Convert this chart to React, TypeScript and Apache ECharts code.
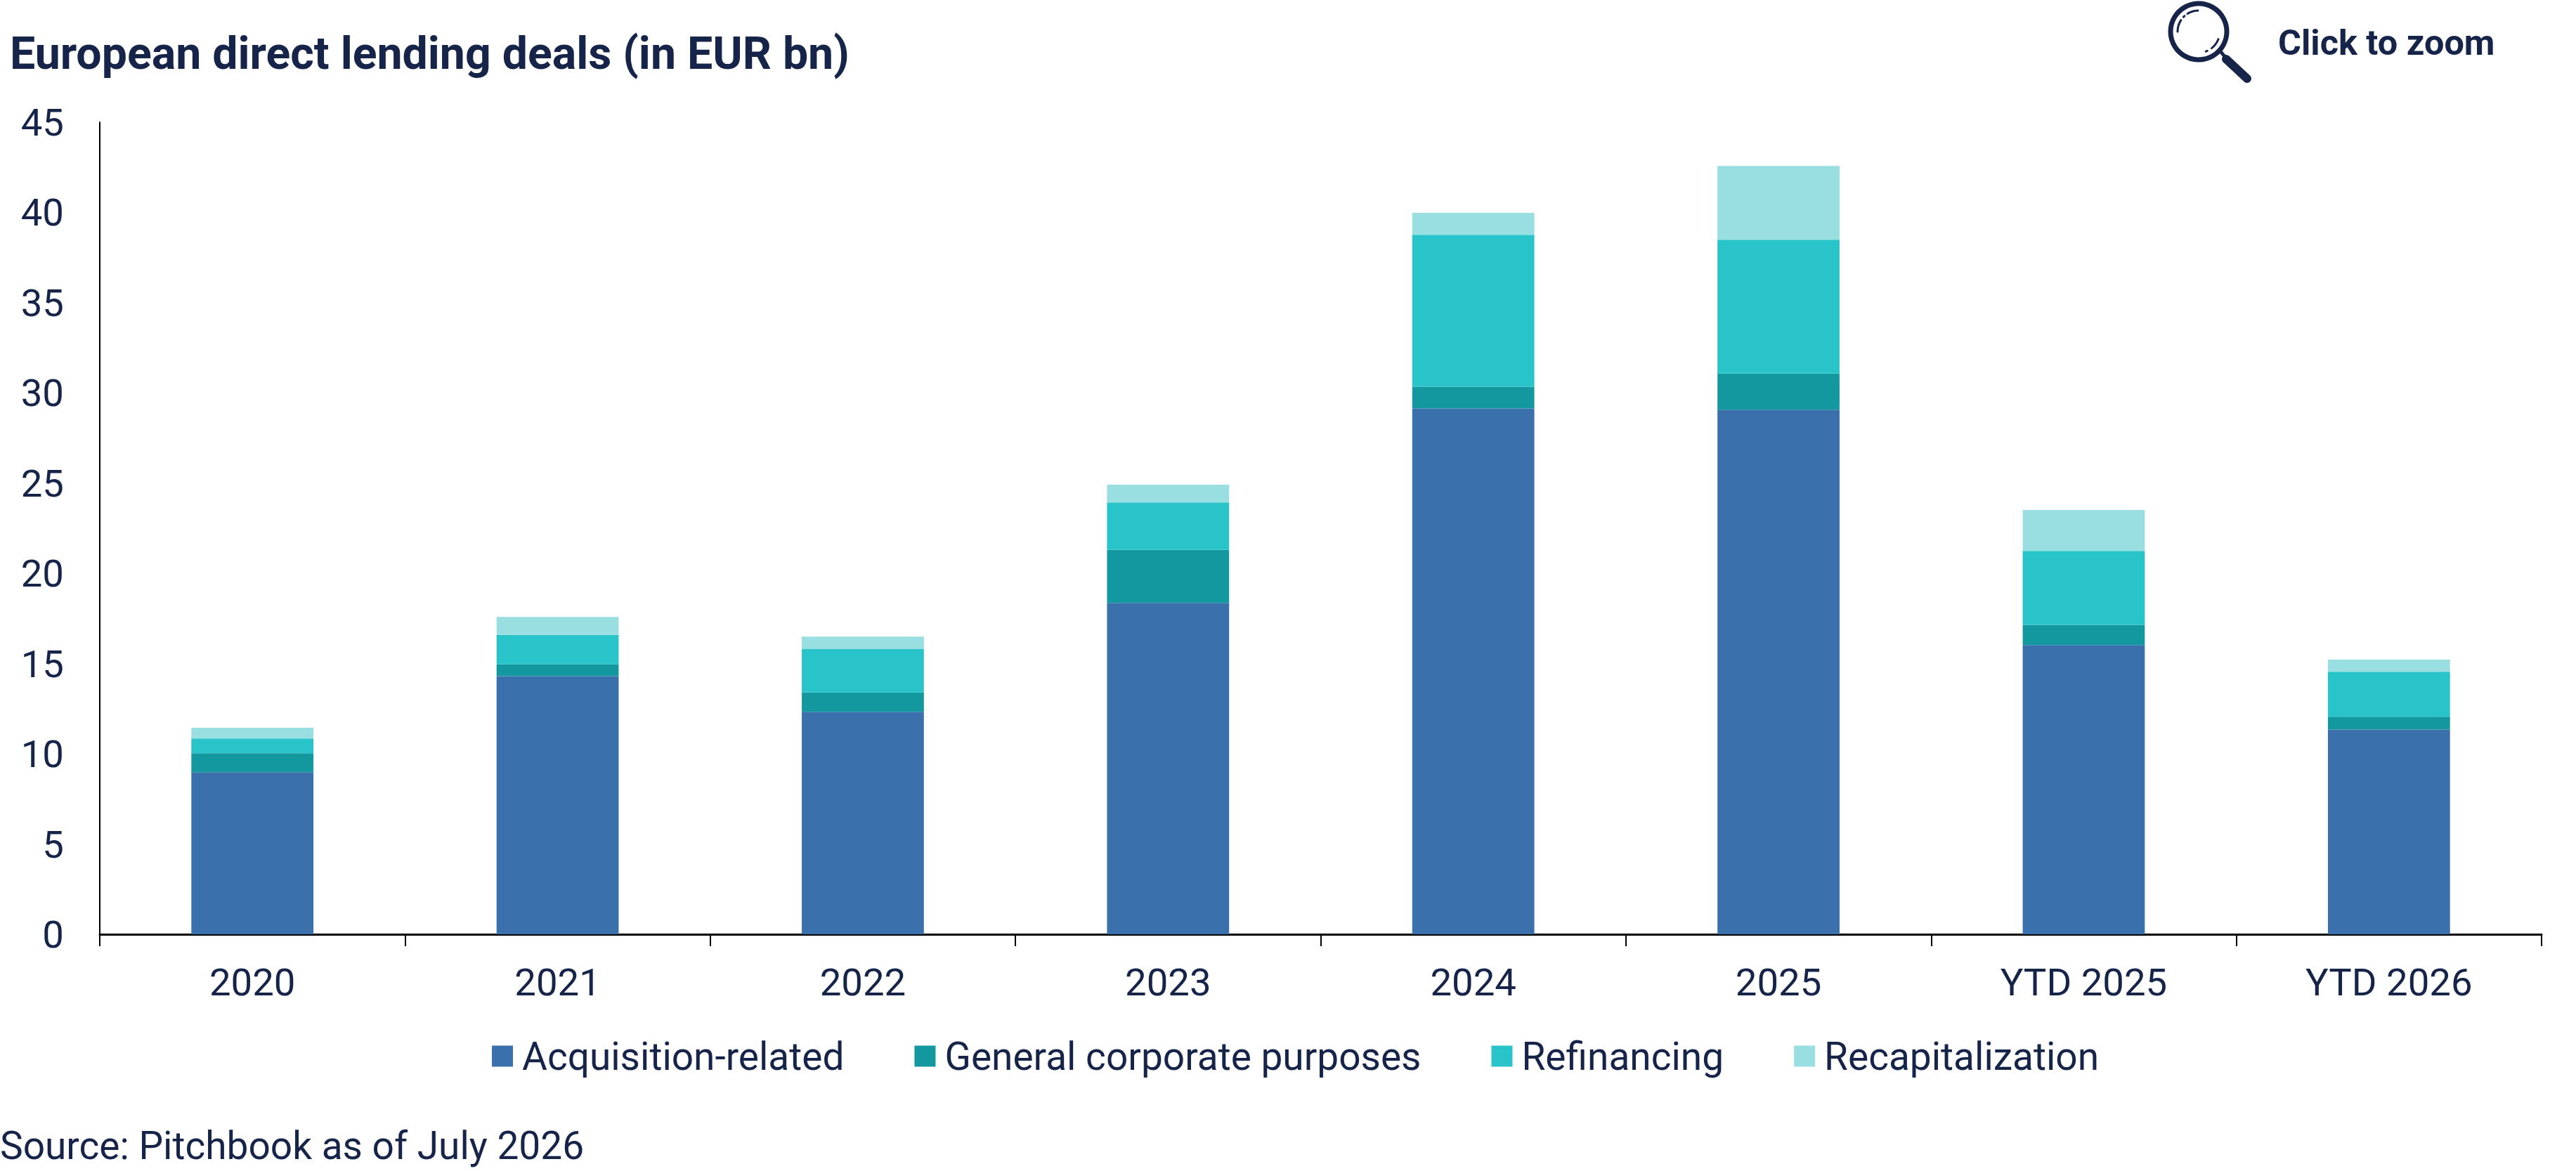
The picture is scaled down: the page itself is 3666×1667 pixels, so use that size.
import React, { useEffect, useRef } from "react";
import * as echarts from "echarts";

const categories = ["2020", "2021", "2022", "2023", "2024", "2025", "YTD 2025", "YTD 2026"];
const acquisition = [8.98, 14.31, 12.33, 18.36, 29.14, 29.07, 16.03, 11.35];
const generalCorporate = [1.05, 0.65, 1.07, 2.94, 1.2, 2.0, 1.11, 0.71];
const refinancing = [0.82, 1.63, 2.42, 2.63, 8.42, 7.42, 4.1, 2.49];
const recapitalization = [0.59, 1.0, 0.68, 0.98, 1.22, 4.09, 2.27, 0.67];
const seriesNames = ["Acquisition-related", "General corporate purposes", "Refinancing", "Recapitalization"];
const seriesColors = ["#3A71AC", "#1398A0", "#29C4C9", "#99DFE1"];
const seriesValues = [acquisition, generalCorporate, refinancing, recapitalization];

const TEXT = "#16244A";
const FONT = "Roboto";

export default function App() {
  const ref = useRef<HTMLDivElement>(null);
  useEffect(() => {
    const chart = echarts.init(ref.current!, null, { renderer: "svg" });
    const deg = Math.PI / 180;
    const cx = 3129;
    const cy = 45;
    const highlight = (a: number, b: number) => ({
      type: "arc",
      shape: { cx, cy, r: 30, startAngle: a * deg, endAngle: b * deg, clockwise: true },
      style: { stroke: TEXT, lineWidth: 3, fill: "none", lineCap: "round" },
    });
    chart.setOption({
      animation: false,
      backgroundColor: "#FFFFFF",
      title: {
        text: "European direct lending deals (in EUR bn)",
        left: 14,
        top: 43,
        padding: 0,
        textStyle: { fontFamily: FONT, fontSize: 64.4, fontWeight: "bold", color: TEXT, lineHeight: 66 },
      },
      grid: { left: 142, right: 49, top: 174, bottom: 337 },
      legend: {
        left: 700,
        top: 1476,
        padding: 0,
        itemGap: 100,
        itemWidth: 30,
        itemHeight: 30,
        icon: "rect",
        data: seriesNames,
        textStyle: { fontFamily: FONT, fontSize: 55, color: TEXT, padding: [0, 0, 0, 8] },
      },
      xAxis: {
        type: "category",
        data: categories,
        axisLine: { lineStyle: { color: "#000000", width: 3 } },
        axisTick: { show: true, alignWithLabel: false, length: 17, lineStyle: { color: "#000000", width: 2 } },
        axisLabel: { fontFamily: FONT, fontSize: 54.5, color: TEXT, margin: 40 },
      },
      yAxis: {
        type: "value",
        min: 0,
        max: 45,
        interval: 5,
        splitLine: { show: false },
        axisLine: { show: true, lineStyle: { color: "#000000", width: 2 } },
        axisTick: { show: false },
        axisLabel: { fontFamily: FONT, fontSize: 54.5, color: TEXT, margin: 51, padding: [0, 0, 10, 0] },
      },
      series: seriesNames.map((name, i) => ({
        name,
        type: "bar",
        stack: "deals",
        barWidth: "40%",
        itemStyle: { color: seriesColors[i] },
        data: seriesValues[i],
      })),
      graphic: [
        {
          type: "text",
          x: 0,
          y: 1658,
          style: {
            text: "Source: Pitchbook as of July 2026",
            fontFamily: FONT,
            fontSize: 55,
            fill: TEXT,
            verticalAlign: "bottom",
          },
        },
        {
          type: "text",
          x: 3242,
          y: 60,
          style: {
            text: "Click to zoom",
            fontFamily: FONT,
            fontSize: 50.4,
            fontWeight: "bold",
            fill: TEXT,
            verticalAlign: "middle",
          },
        },
        {
          type: "circle",
          shape: { cx, cy, r: 40 },
          style: { fill: "none", stroke: TEXT, lineWidth: 7 },
        },
        {
          type: "line",
          shape: { x1: 3159, y1: 72, x2: 3169, y2: 84 },
          style: { stroke: TEXT, lineWidth: 5 },
        },
        {
          type: "line",
          shape: { x1: 3168, y1: 84, x2: 3198, y2: 112 },
          style: { stroke: TEXT, lineWidth: 12, lineCap: "round" },
        },
        highlight(180, 213),
        highlight(224, 228),
        highlight(238, 268),
        highlight(21, 52),
        highlight(66, 70),
      ],
    });
    return () => chart.dispose();
  }, []);
  return (
    <div
      ref={ref}
      style={{ position: "absolute", left: 0, top: 0, width: 3666, height: 1667 }}
    />
  );
}
